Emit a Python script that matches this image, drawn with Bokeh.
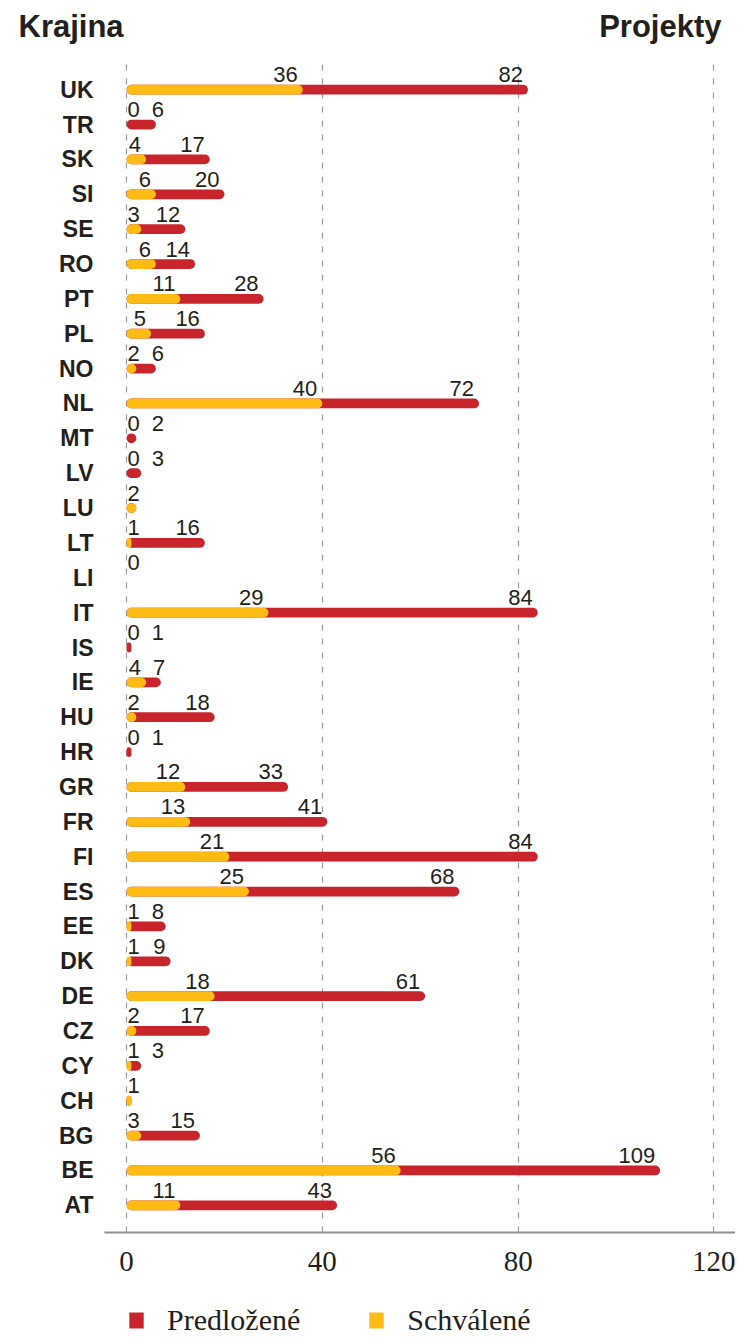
from bokeh.plotting import figure
from bokeh.layouts import column
from bokeh.models import (ColumnDataSource, FactorRange, FixedTicker,
                          Legend, LegendItem, Range1d)
from bokeh.core.properties import value
from bokeh.embed import file_html
from bokeh.resources import INLINE

# ---------------- data ----------------
countries = ["UK", "TR", "SK", "SI", "SE", "RO", "PT", "PL", "NO", "NL", "MT",
             "LV", "LU", "LT", "LI", "IT", "IS", "IE", "HU", "HR", "GR", "FR",
             "FI", "ES", "EE", "DK", "DE", "CZ", "CY", "CH", "BG", "BE", "AT"]
submitted = [82, 6, 17, 20, 12, 14, 28, 16, 6, 72, 2,
             3, 2, 16, 0, 84, 1, 7, 18, 1, 33, 41,
             84, 68, 8, 9, 61, 17, 3, 1, 15, 109, 43]
approved = [36, 0, 4, 6, 3, 6, 11, 5, 2, 40, 0,
            0, 2, 1, 0, 29, 0, 4, 2, 0, 12, 13,
            21, 25, 1, 1, 18, 2, 1, 1, 3, 56, 11]
x_ticks = [0, 40, 80, 120]
legend_labels = ["Predložené", "Schválené"]
title_left = "Krajina"
title_right = "Projekty"

# ---------------- style ----------------
RED = "#c8242c"
YELLOW = "#fdbb13"
TXT = "#231f20"
SANS = "Liberation Sans"
SERIF = "Liberation Serif"

W = 735
X_START, X_END = -4.5, 124.4
FRAME_W, FRAME_H = 631, 1170
PX = FRAME_W / (X_END - X_START)
NUM_FS = 22
DIGIT_W = 0.556 * NUM_FS

# ---------------- header (column titles) ----------------
head = figure(width=W, height=62, x_range=Range1d(0, W), y_range=Range1d(62, 0),
              x_axis_type=None, y_axis_type=None, output_backend="svg",
              toolbar_location=None, min_border=0, frame_align=False)
head.outline_line_color = None
head.text(x=[18], y=[26], text=[title_left], text_align="left",
          text_baseline="alphabetic", text_font=value(SANS),
          text_font_size="31px", text_font_style="bold", text_color=TXT)
head.text(x=[721], y=[26], text=[title_right], text_align="right",
          text_baseline="alphabetic", text_font=value(SANS),
          text_font_size="31px", text_font_style="bold", text_color=TXT)

# ---------------- main chart ----------------
p = figure(
    frame_width=FRAME_W, frame_height=FRAME_H,
    x_range=Range1d(X_START, X_END),
    y_range=FactorRange(factors=list(reversed(countries)),
                        range_padding=0.28, range_padding_units="absolute"),
    output_backend="svg", toolbar_location=None, frame_align=False,
    min_border_left=104, min_border_right=0, min_border_top=0,
    min_border_bottom=55,
)
p.outline_line_color = None

src = ColumnDataSource(dict(country=countries, submitted=submitted,
                            approved=approved))
BAR_H = 0.28
p.hbar(y="country", left=0, right="submitted", height=BAR_H,
       source=src, fill_color=RED, line_color=None, border_radius=5)
p.hbar(y="country", left=0, right="approved", height=BAR_H,
       source=src, fill_color=YELLOW, line_color=None, border_radius=5)

# value labels (approved first, submitted pushed right if they would collide)
lx, ly, lt, lo = [], [], [], []
for c, s, a in zip(countries, submitted, approved):
    ta, ts = str(a), str(s)
    a_right = max(a * PX - 5, len(ta) * DIGIT_W + 1)
    lx.append(a); ly.append(c); lt.append(ta); lo.append(a_right - a * PX)
    if s != a:
        s_right = max(s * PX - 5, a_right + 12 + len(ts) * DIGIT_W)
        lx.append(s); ly.append(c); lt.append(ts); lo.append(s_right - s * PX)
lsrc = ColumnDataSource(dict(x=lx, y=ly, text=lt, xo=lo))
p.text(x="x", y="y", text="text", x_offset="xo", y_offset=-15, source=lsrc,
       text_align="right", text_baseline="alphabetic",
       text_font=value(SANS), text_font_size=f"{NUM_FS}px", text_color=TXT)

# grid
p.ygrid.grid_line_color = None
p.xgrid.ticker = FixedTicker(ticks=x_ticks)
p.xgrid.grid_line_color = "#9a9a9a"
p.xgrid.grid_line_dash = "6 8"
p.xgrid.grid_line_width = 1.2

# x axis
p.xaxis.ticker = FixedTicker(ticks=x_ticks)
p.xaxis.axis_line_color = "#8f8f8f"
p.xaxis.axis_line_width = 2
p.xaxis.major_tick_line_color = None
p.xaxis.minor_tick_line_color = None
p.xaxis.major_tick_out = 0
p.xaxis.major_tick_in = 0
p.xaxis.major_label_standoff = 19
p.xaxis.major_label_text_font = SERIF
p.xaxis.major_label_text_font_size = "29px"
p.xaxis.major_label_text_color = TXT

# y axis
p.yaxis.axis_line_color = None
p.yaxis.major_tick_line_color = None
p.yaxis.minor_tick_line_color = None
p.yaxis.major_tick_out = 0
p.yaxis.major_tick_in = 0
p.yaxis.major_label_standoff = 11
p.yaxis.major_label_text_font = SANS
p.yaxis.major_label_text_font_size = "23px"
p.yaxis.major_label_text_font_style = "bold"
p.yaxis.major_label_text_color = TXT

# ---------------- footer (legend) ----------------
foot = figure(width=W, height=50, x_range=Range1d(0, W), y_range=Range1d(0, 50),
              x_axis_type=None, y_axis_type=None, output_backend="svg",
              toolbar_location=None, min_border=0, frame_align=False)
foot.outline_line_color = None
# zero-size proxy glyphs that only carry the legend styling
g_red = foot.hbar(y=[0], left=[0], right=[0], height=0, fill_color=RED,
                  line_color=None)
g_yel = foot.hbar(y=[0], left=[0], right=[0], height=0, fill_color=YELLOW,
                  line_color=None)
legend = Legend(items=[LegendItem(label=legend_labels[0], renderers=[g_red]),
                       LegendItem(label=legend_labels[1], renderers=[g_yel])],
                orientation="horizontal", location=(127, 0),
                glyph_width=18, glyph_height=20, label_standoff=22, spacing=67,
                padding=0, margin=0, border_line_color=None,
                background_fill_alpha=0,
                label_text_font=SERIF, label_text_font_size="30px",
                label_text_color=TXT)
foot.add_layout(legend, "center")

layout = column(head, p, foot, spacing=0)
open("out.html", "w").write(file_html(layout, INLINE))
